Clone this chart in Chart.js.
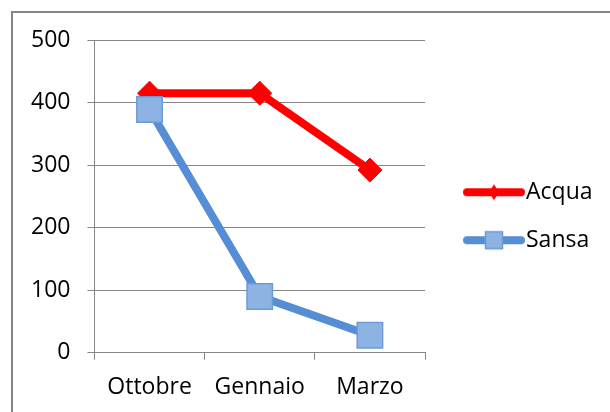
<!DOCTYPE html>
<html>
<head>
<meta charset="utf-8">
<script src="https://cdn.jsdelivr.net/npm/chart.js@4/dist/chart.umd.min.js"></script>
<style>
  html, body { margin: 0; padding: 0; background: #ffffff; }
  #wrap { position: relative; width: 610px; height: 412px; }
</style>
</head>
<body>
<div id="wrap"><canvas id="c" width="610" height="412"></canvas></div>
<script>
const categories = ['Ottobre', 'Gennaio', 'Marzo'];
const acqua = [415, 415, 292];
const sansa = [389, 90, 28];
const seriesNames = ['Acqua', 'Sansa'];
const yMin = 0, yMax = 500, yStep = 100;

const FONT = "'Open Sans', 'DejaVu Sans', sans-serif";
const RED = '#ff0000';
const BLUE_LINE = '#558ed5';
const BLUE_FILL = '#8db3e2';
const BLUE_EDGE = '#6c9bd8';
const GRID = '#868686';

function legendImg(kind) {
  const c = document.createElement('canvas');
  c.width = 62; c.height = 28;
  const g = c.getContext('2d');
  g.lineCap = 'round';
  g.lineWidth = 8;
  g.strokeStyle = kind === 'diamond' ? RED : BLUE_LINE;
  g.beginPath(); g.moveTo(4, 14); g.lineTo(58, 14); g.stroke();
  if (kind === 'diamond') {
    g.fillStyle = RED;
    g.beginPath();
    g.moveTo(31, 6); g.lineTo(36, 14); g.lineTo(31, 22); g.lineTo(26, 14); g.closePath();
    g.fill();
  } else {
    g.fillStyle = BLUE_FILL;
    g.strokeStyle = BLUE_EDGE;
    g.lineWidth = 1.5;
    g.fillRect(22.5, 5.5, 17, 17);
    g.strokeRect(22.5, 5.5, 17, 17);
  }
  return c;
}
const legendImages = [legendImg('diamond'), legendImg('square')];

const frame = {
  id: 'frame',
  beforeDraw(chart) {
    const ctx = chart.ctx;
    ctx.save();
    ctx.strokeStyle = GRID;
    ctx.lineWidth = 2;
    ctx.strokeRect(12, 12, 700, 500);
    ctx.restore();
  },
  afterLayout(chart) {
    const lg = chart.legend;
    if (!lg) return;
    lg.left = 448.5; lg.right = 610;
    lg.top = 155.7; lg.bottom = 412;
    lg.width = lg.right - lg.left;
    lg.height = lg.bottom - lg.top;
  }
};

new Chart(document.getElementById('c'), {
  type: 'line',
  data: {
    labels: categories,
    datasets: [
      {
        label: seriesNames[0],
        data: acqua,
        order: 1,
        borderColor: RED,
        backgroundColor: RED,
        borderWidth: 8,
        borderCapStyle: 'round',
        borderJoinStyle: 'round',
        pointStyle: 'rectRot',
        pointRadius: 12,
        pointBackgroundColor: RED,
        pointBorderColor: RED,
        pointBorderWidth: 1,
        tension: 0
      },
      {
        label: seriesNames[1],
        data: sansa,
        order: 0,
        borderColor: BLUE_LINE,
        backgroundColor: BLUE_FILL,
        borderWidth: 8,
        borderCapStyle: 'round',
        borderJoinStyle: 'round',
        pointStyle: 'rect',
        pointRadius: 18,
        pointBackgroundColor: BLUE_FILL,
        pointBorderColor: BLUE_EDGE,
        pointBorderWidth: 1.5,
        tension: 0
      }
    ]
  },
  options: {
    responsive: false,
    animation: false,
    devicePixelRatio: 1,
    layout: { padding: { top: 40, left: 14, right: 48, bottom: 0 } },
    plugins: {
      tooltip: { enabled: false },
      legend: {
        position: 'right',
        align: 'start',
        labels: {
          usePointStyle: true,
          pointStyleWidth: 41,
          boxHeight: 23,
          padding: 25,
          color: '#000000',
          font: { family: FONT, size: 23 },
          sort: (a, b) => a.datasetIndex - b.datasetIndex,
          generateLabels(chart) {
            const items = Chart.defaults.plugins.legend.labels.generateLabels(chart);
            items.forEach(it => { it.pointStyle = legendImages[it.datasetIndex]; });
            return items;
          }
        }
      }
    },
    scales: {
      x: {
        offset: true,
        afterFit(scale) { scale.height = 59.3; },
        grid: {
          offset: true,
          drawOnChartArea: false,
          drawTicks: true,
          tickLength: 7,
          tickColor: GRID,
          tickWidth: 1
        },
        border: { display: true, color: GRID, width: 1 },
        ticks: { color: '#000000', font: { family: FONT, size: 23 }, padding: 14, maxRotation: 0 }
      },
      y: {
        min: yMin,
        max: yMax,
        grid: {
          color: GRID,
          lineWidth: 1,
          drawTicks: true,
          tickLength: 7,
          tickColor: GRID
        },
        border: { display: true, color: GRID, width: 1 },
        ticks: { stepSize: yStep, color: '#000000', font: { family: FONT, size: 23 }, padding: 17 }
      }
    }
  },
  plugins: [frame]
});
</script>
</body>
</html>
